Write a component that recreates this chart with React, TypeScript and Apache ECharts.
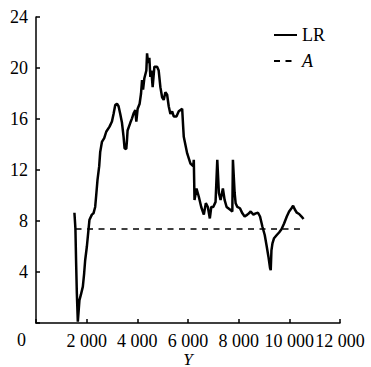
import React, { useEffect, useRef } from "react";
import * as echarts from "echarts";

const lrX = [1517, 1556, 1584, 1612, 1651, 1715, 1770, 1849, 1901, 1940, 2008, 2071, 2111, 2206, 2269, 2336, 2376, 2427, 2495, 2534, 2602, 2693, 2772, 2903, 2998, 3061, 3128, 3196, 3259, 3326, 3394, 3457, 3497, 3564, 3592, 3615, 3722, 3790, 3853, 3920, 3960, 4012, 4091, 4146, 4186, 4226, 4277, 4356, 4384, 4423, 4475, 4514, 4554, 4605, 4673, 4780, 4843, 4910, 4978, 5041, 5108, 5176, 5239, 5306, 5374, 5437, 5544, 5635, 5770, 5809, 5833, 5968, 6098, 6205, 6229, 6257, 6336, 6427, 6522, 6625, 6704, 6783, 6862, 6918, 6997, 7088, 7156, 7219, 7286, 7377, 7445, 7524, 7655, 7750, 7773, 7841, 7880, 7948, 8051, 8146, 8237, 8344, 8407, 8474, 8581, 8672, 8763, 8843, 8938, 9029, 9108, 9175, 9239, 9266, 9294, 9334, 9397, 9504, 9595, 9690, 9793, 9900, 9991, 10086, 10149, 10217, 10296, 10387, 10482, 10561];
const lrY = [8.65, 7.4, 4.7, 2.35, 0.1, 1.8, 2.2, 2.85, 3.9, 4.9, 6.0, 7.3, 8.1, 8.5, 8.6, 9.1, 10.0, 11.2, 12.3, 13.4, 14.2, 14.5, 15.0, 15.4, 15.8, 16.4, 17.1, 17.2, 17.0, 16.4, 15.7, 14.6, 13.7, 13.65, 14.35, 15.1, 15.7, 16.05, 16.45, 16.7, 15.8, 16.8, 17.2, 18.0, 19.06, 18.3, 19.2, 19.8, 21.15, 20.4, 20.8, 19.3, 19.8, 18.5, 20.1, 20.1, 19.8, 18.5, 17.7, 17.5, 18.1, 17.9, 17.0, 16.4, 16.6, 16.2, 16.2, 16.6, 16.8, 15.4, 14.6, 13.3, 12.5, 12.3, 12.8, 9.65, 10.55, 9.9, 9.1, 8.5, 9.4, 9.1, 8.2, 9.1, 9.1, 9.5, 12.8, 10.2, 9.65, 10.55, 9.65, 9.1, 8.9, 8.75, 12.8, 10.2, 9.4, 9.1, 9.0, 8.6, 8.35, 8.5, 8.6, 8.75, 8.5, 8.6, 8.65, 8.35, 7.55, 6.9, 6.0, 5.2, 4.3, 4.15, 5.7, 6.25, 6.65, 6.9, 7.1, 7.35, 7.8, 8.35, 8.75, 9.0, 9.2, 8.9, 8.65, 8.55, 8.35, 8.15];
const aX = [1560, 10420];
const aValue = 7.37;
const seriesNames = ["LR", "A"];
const xTicks = [0, 2000, 4000, 6000, 8000, 10000, 12000];
const yTicks = [0, 4, 8, 12, 16, 20, 24];
const xTitle = "Y";

const FONT = "'Times New Roman', 'Liberation Serif', 'DejaVu Serif', serif";

export default function App() {
  const ref = useRef<HTMLDivElement>(null);
  useEffect(() => {
    if (!ref.current) return;
    const chart = echarts.init(ref.current, null, { renderer: "svg" });
    const fmt = (v: number) => {
      if (v === 0) return "";
      const s = String(v);
      return s.length > 3 ? s.slice(0, s.length - 3) + " " + s.slice(-3) : s;
    };
    chart.setOption({
      animation: false,
      backgroundColor: "#fff",
      textStyle: { fontFamily: FONT },
      grid: { left: 36, right: 31, top: 17, bottom: 44, containLabel: false, outerBoundsMode: "none" },
      legend: {
        orient: "vertical",
        left: 268,
        top: 20,
        itemWidth: 23,
        itemHeight: 14,
        itemGap: 6,
        itemStyle: { opacity: 0 },
        textStyle: {
          fontFamily: FONT,
          fontSize: 18,
          color: "#000",
          lineHeight: 20,
          rich: { i: { fontFamily: FONT, fontSize: 18, fontStyle: "italic", color: "#000" } },
        },
        formatter: (n: string) => (n === "A" ? "{i|A}" : n),
        data: seriesNames,
      },
      xAxis: {
        type: "value",
        min: xTicks[0],
        max: xTicks[xTicks.length - 1],
        interval: 2000,
        name: xTitle,
        nameLocation: "middle",
        nameGap: 28,
        nameMoveOverlap: false,
        nameTextStyle: { fontFamily: FONT, fontSize: 17, fontStyle: "italic", color: "#000", lineHeight: 16 },
        axisLine: { lineStyle: { color: "#000", width: 1.5 } },
        axisTick: { inside: true, length: 4, lineStyle: { color: "#000", width: 1.5 } },
        axisLabel: { formatter: fmt, fontFamily: FONT, fontSize: 18, lineHeight: 18, color: "#000", margin: 9, hideOverlap: false },
        splitLine: { show: false },
      },
      yAxis: {
        type: "value",
        min: yTicks[0],
        max: yTicks[yTicks.length - 1],
        interval: 4,
        axisLine: { show: true, lineStyle: { color: "#000", width: 1.5 } },
        axisTick: { show: true, inside: true, length: 4, lineStyle: { color: "#000", width: 1.5 } },
        axisLabel: {
          formatter: (v: number) => (v === 0 ? "" : String(v)),
          fontFamily: FONT,
          fontSize: 18,
          color: "#000",
          margin: 8,
        },
        splitLine: { show: false },
      },
      graphic: [
        {
          type: "text",
          left: 17,
          top: 331,
          style: { text: "0", fontFamily: FONT, fontSize: 18, fill: "#000" },
        },
      ],
      series: [
        {
          name: seriesNames[0],
          type: "line",
          showSymbol: false,
          symbol: "none",
          data: lrX.map((x, i) => [x, lrY[i]]),
          lineStyle: { color: "#000", width: 2.5 },
          itemStyle: { color: "#000" },
        },
        {
          name: seriesNames[1],
          type: "line",
          showSymbol: false,
          symbol: "none",
          data: aX.map((x) => [x, aValue]),
          lineStyle: { color: "#000", width: 1.5, type: [6, 5.5] },
          itemStyle: { color: "#000" },
        },
      ],
    });
    return () => chart.dispose();
  }, []);
  return (
    <div
      ref={ref}
      style={{ position: "fixed", left: 0, top: 0, width: 371, height: 367 }}
    />
  );
}
